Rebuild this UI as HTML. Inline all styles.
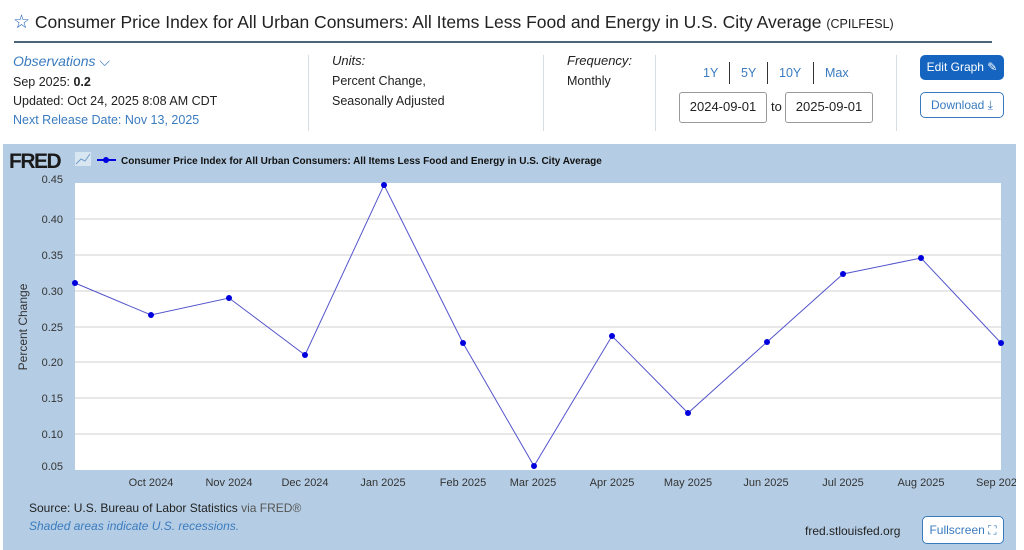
<!DOCTYPE html>
<html><head><meta charset="utf-8"><style>
body{margin:0;width:1024px;height:550px;background:#fff;font-family:"Liberation Sans",sans-serif;position:relative;overflow:hidden;color:#222}
.a{position:absolute;white-space:nowrap}
.lnk{color:#3a7bbf}
.vsep{position:absolute;width:1px;background:#d6dde3}
.box{position:absolute;border:1px solid #999;border-radius:3px;font-size:13px;text-align:center;line-height:28px;background:#fff}
</style></head><body>
<div class="a" style="left:13px;top:11px;font-size:17.5px;color:#222"><span style="color:#1a5fb4;font-size:19px">☆</span> Consumer Price Index for All Urban Consumers: All Items Less Food and Energy in U.S. City Average <span style="font-size:12.5px">(CPILFESL)</span></div>
<div class="a" style="left:14px;top:41px;width:978px;height:2px;background:#4b6478"></div>

<div class="a lnk" style="left:13px;top:53px;font-size:14px;font-style:italic">Observations <span style="font-style:normal">⌵</span></div>
<div class="a" style="left:13px;top:75px;font-size:12.5px">Sep 2025: <b>0.2</b></div>
<div class="a" style="left:13px;top:94px;font-size:12.5px">Updated: Oct 24, 2025 8:08 AM CDT</div>
<div class="a lnk" style="left:13px;top:113px;font-size:12.5px">Next Release Date: Nov 13, 2025</div>
<div class="vsep" style="left:308px;top:55px;height:76px"></div>
<div class="a" style="left:332px;top:53px;font-size:13px;font-style:italic">Units:</div>
<div class="a" style="left:332px;top:74px;font-size:12.5px">Percent Change,</div>
<div class="a" style="left:332px;top:94px;font-size:12.5px">Seasonally Adjusted</div>
<div class="vsep" style="left:543px;top:55px;height:76px"></div>
<div class="a" style="left:567px;top:53px;font-size:13px;font-style:italic">Frequency:</div>
<div class="a" style="left:567px;top:74px;font-size:12.5px">Monthly</div>
<div class="vsep" style="left:655px;top:55px;height:76px"></div>
<div class="a lnk" style="left:703px;top:66px;font-size:12.5px">1Y</div>
<div class="a" style="left:729px;top:62px;width:1px;height:22px;background:#333"></div>
<div class="a lnk" style="left:741px;top:66px;font-size:12.5px">5Y</div>
<div class="a" style="left:767px;top:62px;width:1px;height:22px;background:#333"></div>
<div class="a lnk" style="left:779px;top:66px;font-size:12.5px">10Y</div>
<div class="a" style="left:813px;top:62px;width:1px;height:22px;background:#333"></div>
<div class="a lnk" style="left:825px;top:66px;font-size:12.5px">Max</div>
<div class="box" style="left:679px;top:92px;width:86px;height:29px">2024-09-01</div>
<div class="a" style="left:771px;top:99px;font-size:13px">to</div>
<div class="box" style="left:785px;top:92px;width:86px;height:29px">2025-09-01</div>
<div class="vsep" style="left:896px;top:55px;height:76px"></div>
<div class="a" style="left:920px;top:55px;width:84px;height:25px;background:#1565c0;border-radius:5px;color:#fff;font-size:12px;line-height:25px;text-align:center">Edit Graph ✎</div>
<div class="a lnk" style="left:920px;top:92px;width:82px;height:24px;border:1px solid #3a7bbf;border-radius:5px;font-size:12px;line-height:24px;text-align:center">Download ⤓</div>

<div class="a" style="left:3px;top:144px;width:1013px;height:406px;background:#b5cde4"></div>
<svg class="a" style="left:0;top:0" width="1024" height="550">
<text x="9" y="168" font-family="Liberation Sans" font-weight="bold" font-size="21" fill="#1a1a1a" letter-spacing="-1.5">FRED</text>
<rect x="75" y="152" width="16" height="14" fill="#d8e6f2"/>
<polyline points="76,164 81,159 85,161 90,154" fill="none" stroke="#6e9ccc" stroke-width="1"/>
<line x1="97" y1="160" x2="116" y2="160" stroke="#0000e0" stroke-width="2"/>
<circle cx="106" cy="160" r="3" fill="#0000e0"/>
<text x="121" y="164" font-family="Liberation Sans" font-weight="bold" font-size="10" fill="#111">Consumer Price Index for All Urban Consumers: All Items Less Food and Energy in U.S. City Average</text>
<rect x="75" y="183" width="926" height="287" fill="#fff"/>
<g stroke="#d0d0d0" stroke-width="1">
<line x1="75" x2="1001" y1="219" y2="219"/><line x1="75" x2="1001" y1="255" y2="255"/>
<line x1="75" x2="1001" y1="291" y2="291"/><line x1="75" x2="1001" y1="327" y2="327"/>
<line x1="75" x2="1001" y1="362" y2="362"/><line x1="75" x2="1001" y1="398" y2="398"/>
<line x1="75" x2="1001" y1="434" y2="434"/>
</g>
<g font-family="Liberation Sans" font-size="11" fill="#333" text-anchor="end">
<text x="63" y="183">0.45</text><text x="63" y="223">0.40</text><text x="63" y="259">0.35</text>
<text x="63" y="295">0.30</text><text x="63" y="331">0.25</text><text x="63" y="366">0.20</text>
<text x="63" y="402">0.15</text><text x="63" y="438">0.10</text><text x="63" y="470">0.05</text>
</g>
<text transform="translate(27,327) rotate(-90)" text-anchor="middle" font-family="Liberation Sans" font-size="12" fill="#333">Percent Change</text>
<polyline points="75,283 151,315 229,298 305,355 384,185 463,343 534,466 612,336 688,413 767,342 843,274 921,258 1001,343" fill="none" stroke="#5555cc" stroke-width="1"/>
<g fill="#0000dd">
<circle cx="75" cy="283" r="3"/><circle cx="151" cy="315" r="3"/><circle cx="229" cy="298" r="3"/>
<circle cx="305" cy="355" r="3"/><circle cx="384" cy="185" r="3"/><circle cx="463" cy="343" r="3"/>
<circle cx="534" cy="466" r="3"/><circle cx="612" cy="336" r="3"/><circle cx="688" cy="413" r="3"/>
<circle cx="767" cy="342" r="3"/><circle cx="843" cy="274" r="3"/><circle cx="921" cy="258" r="3"/>
<circle cx="1001" cy="343" r="3"/>
</g>
<g font-family="Liberation Sans" font-size="11" fill="#333" text-anchor="middle">
<text x="151" y="486">Oct 2024</text><text x="229" y="486">Nov 2024</text><text x="305" y="486">Dec 2024</text>
<text x="383" y="486">Jan 2025</text><text x="463" y="486">Feb 2025</text><text x="533" y="486">Mar 2025</text>
<text x="612" y="486">Apr 2025</text><text x="688" y="486">May 2025</text><text x="766" y="486">Jun 2025</text>
<text x="843" y="486">Jul 2025</text><text x="921" y="486">Aug 2025</text>
</g>
<text x="976" y="486" font-family="Liberation Sans" font-size="11" fill="#333">Sep 2025</text>
<rect x="1016" y="470" width="8" height="30" fill="#fff"/>
</svg>
<div class="a" style="left:29px;top:501px;font-size:12px;color:#222">Source: U.S. Bureau of Labor Statistics <span style="color:#555">via FRED®</span></div>
<div class="a lnk" style="left:29px;top:519px;font-size:12px;font-style:italic">Shaded areas indicate U.S. recessions.</div>
<div class="a" style="left:805px;top:524px;font-size:12px;color:#222">fred.stlouisfed.org</div>
<div class="a lnk" style="left:922px;top:516px;width:80px;height:26px;background:#fff;border:1px solid #3a7bbf;border-radius:5px;font-size:12px;line-height:26px;text-align:center">Fullscreen ⛶</div>
</body></html>
